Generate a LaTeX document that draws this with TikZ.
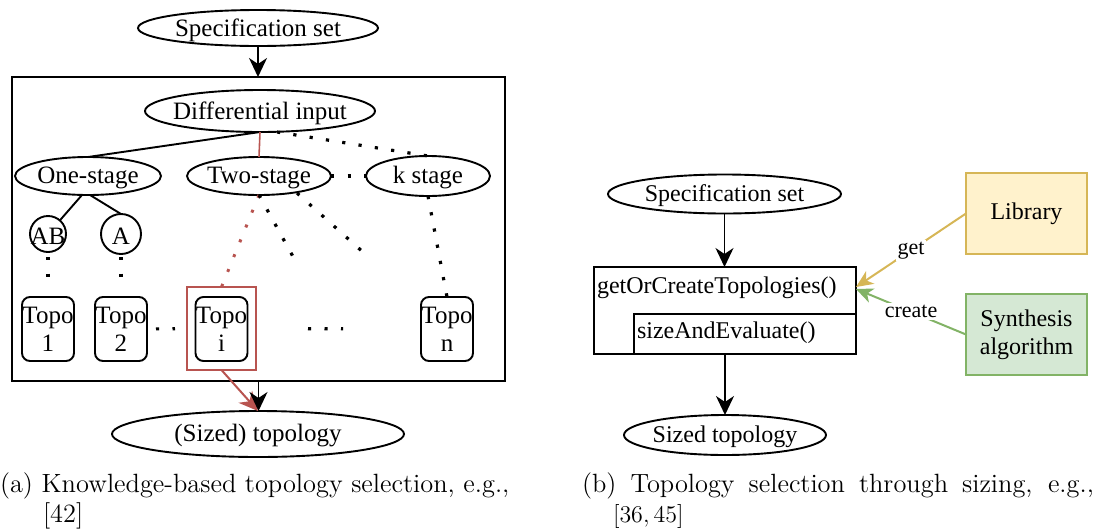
\documentclass[tikz,border=0pt]{standalone}
\usepackage{fontspec}
\newfontfamily\tms{Liberation Serif}
\usetikzlibrary{arrows.meta,shapes.geometric}
\definecolor{redline}{HTML}{B85450}
\definecolor{libfill}{HTML}{FFF2CC}
\definecolor{libdraw}{HTML}{D6B656}
\definecolor{synfill}{HTML}{D5E8D4}
\definecolor{syndraw}{HTML}{82B366}
% zero-width text so that shapes keep their given size, set a little low
\newcommand\ctext[1]{\raisebox{-1pt}[\height][\depth]{\makebox[0pt]{#1}}}

\begin{document}
\begin{tikzpicture}[x=0.5pt,y=-0.5pt,
  every node/.style={inner sep=0pt,outer sep=0pt},
  oval/.style={ellipse,draw,line width=0.95pt,font=\tms\fontsize{12.5}{14}\selectfont},
  ovalR/.style={ellipse,draw,line width=0.95pt,font=\tms\fontsize{12}{14}\selectfont},
  circ/.style={circle,draw,line width=0.95pt,font=\tms\fontsize{12.5}{14}\selectfont},
  topo/.style={rectangle,draw,rounded corners=4pt,line width=0.95pt,align=center,
    minimum width=26pt,minimum height=32pt,font=\tms\fontsize{12.5}{14}\selectfont},
  lbl/.style={font=\tms\fontsize{12}{14}\selectfont},
  side/.style={rectangle,draw,line width=0.9pt,align=center,minimum width=60.5pt,
    minimum height=40.5pt,font=\tms\fontsize{12}{14}\selectfont},
  edgelbl/.style={fill=white,inner sep=1pt,font=\tms\fontsize{11}{13}\selectfont},
  solidl/.style={line width=0.95pt},
  redl/.style={draw=redline,line width=0.8pt},
  dots/.style={line width=1.6pt,dash pattern=on 1.6pt off 6.65pt},
  reddots/.style={draw=redline,line width=1.5pt,dash pattern=on 1.5pt off 6.5pt},
  arr/.style={line width=0.95pt,-{Stealth[length=9.5pt,width=9pt,inset=3pt]}},
  redarr/.style={draw=redline,line width=1pt,-{Stealth[length=9.5pt,width=9pt,inset=3pt]}},
  yarr/.style={draw=libdraw,line width=1pt,-{Stealth[length=8.5pt,width=7.5pt,inset=2.5pt]}},
  garr/.style={draw=syndraw,line width=1pt,-{Stealth[length=8.5pt,width=7.5pt,inset=2.5pt]}},
  captext/.style={font=\fontsize{13.2}{15}\selectfont}
]
\useasboundingbox (0,0) rectangle (1094,531);

% ---------- (a) knowledge-based selection ----------
\node[oval,minimum width=120pt,minimum height=18pt] (specA) at (258,28) {\ctext{Specification set}};
\node[draw,line width=1pt,minimum width=246.5pt,minimum height=152pt] (frame) at (258.5,229) {};
\node[oval,minimum width=115pt,minimum height=21pt] (diff) at (260,111) {\ctext{Differential input}};
\node[oval,minimum width=73pt,minimum height=19pt] (one) at (88,176) {\ctext{One-stage}};
\node[oval,minimum width=72pt,minimum height=19pt] (two) at (259,176) {\ctext{Two-stage}};
\node[oval,minimum width=62pt,minimum height=20pt] (kst) at (428,176) {\ctext{k stage}};
\node[circ,minimum size=18pt] (AB) at (48,234) {\ctext{AB}};
\node[circ,minimum size=20pt] (A) at (121,234) {\ctext{A}};
\node[topo] (t1) at (48,329) {Topo\\1};
\node[topo] (t2) at (121,329) {Topo\\2};
\node[topo] (ti) at (221.5,329) {Topo\\i};
\node[topo] (tn) at (447,329) {Topo\\n};
\node[draw=redline,line width=1pt,minimum width=34.5pt,minimum height=41.5pt] (sel) at (221.5,328.5) {};
\node[oval,minimum width=146pt,minimum height=23pt] (sized) at (258,434) {\ctext{(Sized) topology}};

\coordinate (d1) at (296,262);
\coordinate (d2) at (364,253);

\draw[arr] (specA.south) -- (specA.south |- frame.north);
\draw[solidl] (diff.south) -- (one.north);
\draw[redl] (diff.south) -- (two.north);
\draw[dots] ([xshift=8.5pt]diff.south) -- (kst.north);
\draw[dots] (two.east) -- (kst.west);
\draw[solidl] ([xshift=-3pt]one.south) -- (AB);
\draw[solidl] ([xshift=1pt]one.south) -- (A.north);
\draw[dots,shorten <=2.5pt,shorten >=8pt] (AB.south) -- (t1.north);
\draw[dots,shorten <=1.5pt,shorten >=8pt] (A.south) -- (t2.north);
\draw[reddots] (two.south) -- (sel.north);
\draw[dots] (two.south) -- (d1);
\draw[dots] ([xshift=19pt,yshift=1pt]two.south) -- (d2);
\draw[dots] (kst.south) -- (tn.north);
\draw[dots,shorten <=4.5pt,shorten >=6pt] (t2.east) -- (sel.west);
\draw[dots,shorten <=26pt,shorten >=39pt] (sel.east) -- (tn.west);
\draw[redarr] (sel.south) -- (sized.north);
\draw[arr] (frame.south) -- (frame.south |- sized.north);

% ---------- (b) selection through sizing ----------
\node[ovalR,minimum width=116.5pt,minimum height=19.5pt] (specB) at (724.5,194) {\ctext{Specification set}};
\node[draw,line width=1pt,minimum width=131pt,minimum height=43.5pt] (outer) at (725,310.5) {};
\node[draw,line width=1pt,minimum width=111pt,minimum height=20pt] (inner) at (745,334) {};
\node[lbl,anchor=west] (goc) at (597,288) {getOrCreateTopologies()};
\node[lbl,anchor=west] (sae) at (637,333) {sizeAndEvaluate()};
\node[ovalR,minimum width=101pt,minimum height=20pt] (sizedB) at (725,435) {\ctext{Sized topology}};
\node[side,draw=libdraw,fill=libfill] (lib) at (1026.5,213.5) {Library};
\node[side,draw=syndraw,fill=synfill] (syn) at (1026.5,334.5) {Synthesis\\algorithm};

\draw[arr] (specB.south) -- (specB.south |- outer.north);
\draw[arr] (outer.south) -- (outer.south |- sizedB.north);
\draw[yarr] (lib.west) -- node[edgelbl] {get} ([yshift=11.75pt]outer.east);
\draw[garr] (syn.west) -- node[edgelbl] {create} ([yshift=10.75pt]outer.east);

% ---------- captions ----------
\node[captext,anchor=base west] (capa1) at (0,492) {(a) Knowledge-based topology selection, e.g.,};
\node[captext,anchor=base west] (capa2) at (43,522) {[42]};
\node[captext,anchor=base west] (capb1) at (582,492) {\makebox[256pt][s]{(b) Topology selection through sizing, e.g.,}};
\node[captext,anchor=base west] (capb2) at (613,522) {$[36,45]$};
\end{tikzpicture}
\end{document}
